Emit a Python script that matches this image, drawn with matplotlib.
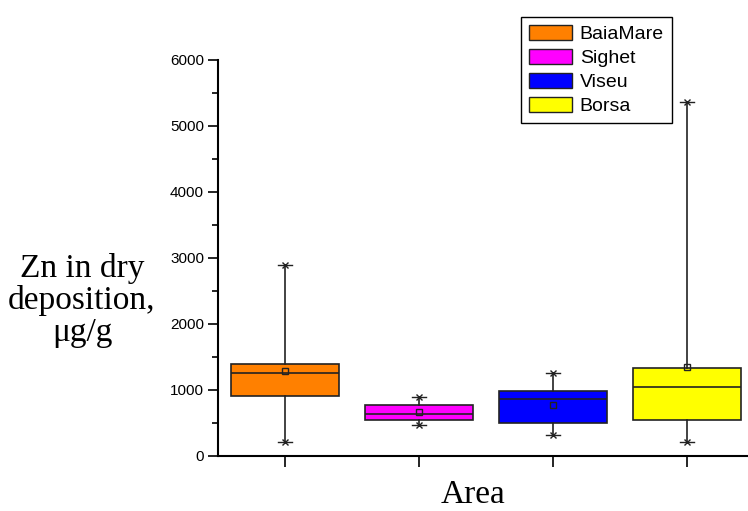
import numpy as np
import matplotlib.pyplot as plt

# box statistics (Zn, ug/g)
areas = ['BaiaMare', 'Sighet', 'Viseu', 'Borsa']
colors = ['#FF8000', '#FF00FF', '#0000FF', '#FFFF00']
q1 = [897, 535, 499, 535]
median = [1257, 635, 863, 1036]
q3 = [1388, 767, 985, 1325]
mean = [1277, 657, 763, 1349]
wmin = [203, 463, 307, 205]
wmax = [2888, 884, 1258, 5357]

fig = plt.figure(figsize=(7.48, 5.11), dpi=100)
ax = fig.add_axes([0.2914, 0.1086, 0.7086, 0.774])

stats = []
for i in range(len(areas)):
    stats.append({'label': areas[i], 'q1': q1[i], 'med': median[i], 'q3': q3[i],
                  'mean': mean[i], 'whislo': wmin[i], 'whishi': wmax[i], 'fliers': []})

pos = np.arange(1, len(areas) + 1)
edge = '#222222'
bp = ax.bxp(stats, positions=pos, widths=0.8, patch_artist=True, showmeans=True,
            showfliers=False, capwidths=0.1,
            boxprops=dict(edgecolor=edge, linewidth=1.2),
            medianprops=dict(color=edge, linewidth=1.2),
            whiskerprops=dict(color=edge, linewidth=1.2),
            capprops=dict(color=edge, linewidth=1.0),
            meanprops=dict(marker='s', markersize=4, markerfacecolor='none',
                           markeredgecolor=edge, markeredgewidth=1.0))
for patch, c in zip(bp['boxes'], colors):
    patch.set_facecolor(c)

# asterisk-like end markers at min / max
ax.plot(pos, wmin, ls='none', marker='x', ms=5, mew=1.0, color=edge)
ax.plot(pos, wmax, ls='none', marker='x', ms=5, mew=1.0, color=edge)

ax.set_xlim(0.5, 4.455)
ax.set_ylim(0, 6000)
ax.set_xticks(pos)
ax.set_xticklabels([])
ax.set_yticks(np.arange(0, 6001, 1000))
ax.set_yticks(np.arange(500, 6000, 1000), minor=True)
ax.tick_params(axis='y', which='major', length=7, width=1.2, labelsize=11, pad=3)
ax.tick_params(axis='y', which='minor', length=4, width=1.2)
ax.tick_params(axis='x', which='major', length=8, width=1.2)
for lab in ax.get_yticklabels():
    lab.set_fontfamily('Liberation Sans')
ax.spines['top'].set_visible(False)
ax.spines['right'].set_visible(False)
ax.spines['left'].set_linewidth(1.5)
ax.spines['bottom'].set_linewidth(1.5)

fig.text(0.1096, 0.412, 'Zn in dry\ndeposition,\n\u03bcg/g', ha='center', va='center',
         multialignment='center', fontsize=24, family='Liberation Serif', linespacing=1.05)
fig.text(0.632, 0.002, 'Area', ha='center', va='bottom',
         fontsize=24, family='Liberation Serif')

handles = [plt.Rectangle((0, 0), 1, 1, facecolor=c, edgecolor=edge, linewidth=1.0) for c in colors]
leg = fig.legend(handles, areas, loc='upper left', bbox_to_anchor=(0.697, 0.967),
                 bbox_transform=fig.transFigure, borderaxespad=0, fancybox=False,
                 framealpha=1, edgecolor='black', handlelength=2.2, handleheight=0.8,
                 labelspacing=0.3, handletextpad=0.4, borderpad=0.4,
                 prop={'family': 'Liberation Sans', 'size': 14})
leg.get_frame().set_linewidth(1.0)

fig.savefig('out.png', dpi=100)
